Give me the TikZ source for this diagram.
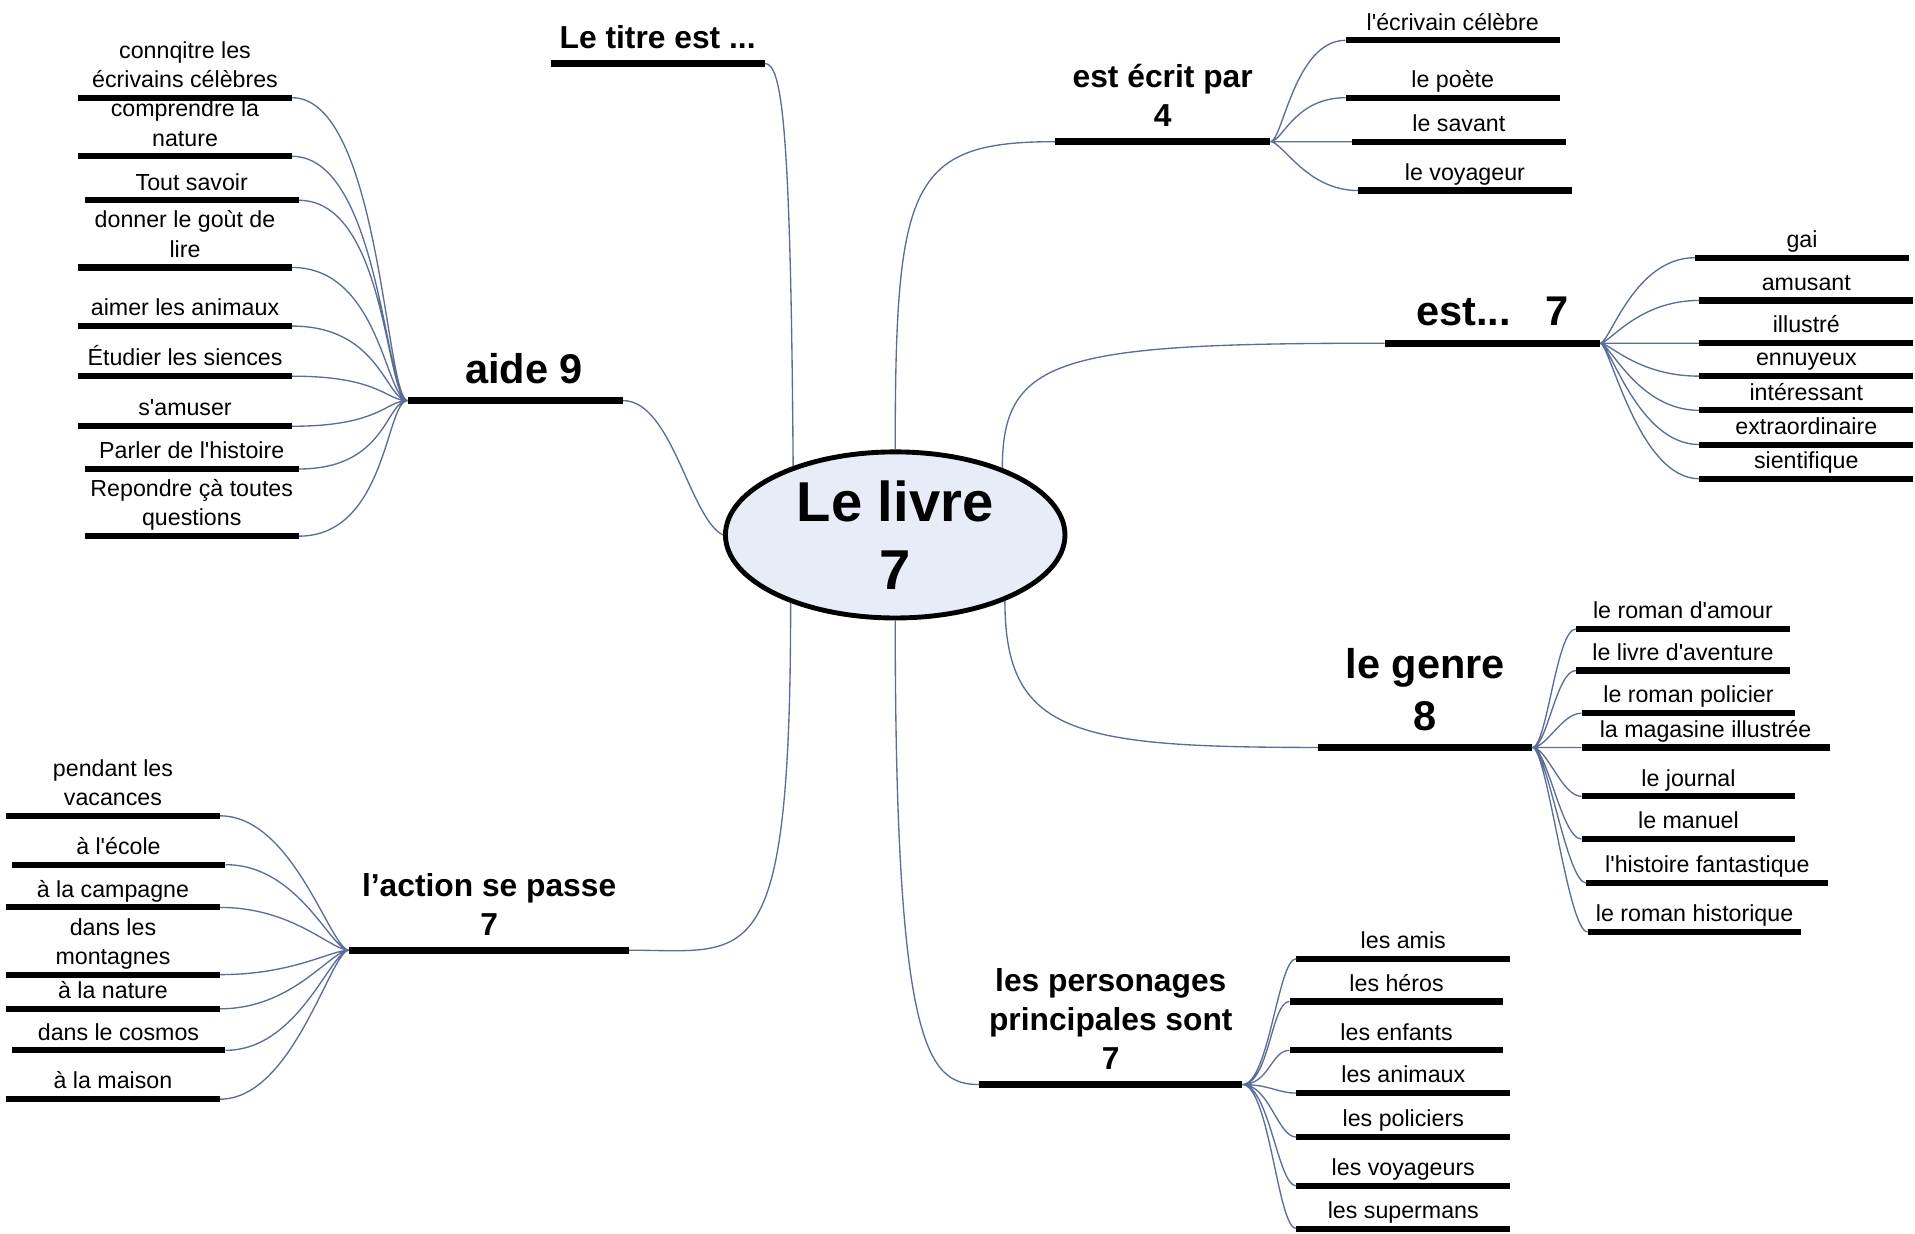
\documentclass[tikz,border=0pt]{standalone}
\usepackage{fontspec}
\setmainfont{Liberation Sans}[Ligatures=TeXOff]
\usetikzlibrary{positioning}
\usetikzlibrary{shapes.geometric}

\definecolor{linkblue}{RGB}{92,110,150}
\definecolor{livrefill}{RGB}{231,236,246}

\tikzset{
  link/.style={draw=linkblue, line width=1.1pt},
  twigl/.style 2 args={link, out=180, in=0, out distance=#1, in distance=#2},
  twigr/.style 2 args={link, out=0, in=180, out distance=#1, in distance=#2},
  every label/.style={inner sep=0pt, text depth=0pt, align=center},
  leaf/.style={fill=black, inner sep=0pt, minimum width=175pt, minimum height=5pt, label distance=7.5pt},
  branch/.style={fill=black, inner sep=0pt, minimum width=175pt, minimum height=5.5pt, label distance=10.5pt},
  bigbranch/.style={branch, label distance=12pt},
  leaflabel/.style={font=\fontsize{19}{24}\selectfont, yshift=5.5pt},
  titlelabel/.style={font=\fontsize{26}{32}\selectfont\bfseries, yshift=9pt},
  bigtitle/.style={font=\fontsize{34}{42}\selectfont\bfseries, yshift=11pt},
}

\begin{document}
\begin{tikzpicture}[x=1pt, y=1pt]
\useasboundingbox (0,0) rectangle (1568,-1010);

% le centre
\node[ellipse, draw, line width=4pt, fill=livrefill, minimum width=278pt, minimum height=136pt, inner sep=0pt, align=center, font=\fontsize{46}{56}\selectfont\bfseries] (livre) at (733,-438) {Le livre\\7};

% les branches
\node[branch, label={[titlelabel]above:Le titre est ...}] (titre) at (538.5,-52) {};
\node[branch, minimum width=176pt, label={[titlelabel]above:{est écrit par\\4}}] (ecrit) at (952,-116) {};
\node[bigbranch, minimum width=176pt, label={[bigtitle]above:est...~~~7}] (est) at (1222,-281) {};
\node[bigbranch, minimum width=176pt, label={[bigtitle, xshift=7pt]above:aide 9}] (aide) at (422,-328) {};
\node[bigbranch, label={[bigtitle]above:{le genre\\8}}] (genre) at (1167,-612) {};
\node[branch, minimum width=215pt, label={[titlelabel]above:{les personages\\principales sont\\7}}] (perso) at (909.5,-888) {};
\node[branch, minimum width=229pt, label={[titlelabel]above:{l’action se passe\\7}}] (action) at (400.5,-778) {};

\draw[link] (livre.146) .. controls +(-2,281) and +(14,0) .. (titre.east);
\draw[link] (livre.north) .. controls +(0,218) and +(-119,0) .. (ecrit.west);
\draw[link] (livre.32) .. controls +(0,91) and +(-265,0) .. (est.west);
\draw[link] (livre.west) .. controls +(-27,13) and +(40,0) .. (aide.east);
\draw[link] (livre.329) .. controls +(0,-109) and +(-200,0) .. (genre.west);
\draw[link] (livre.south) .. controls +(0,-352) and +(-42,0) .. (perso.west);
\draw[link] (livre.213) .. controls +(0,-309) and +(99,0) .. (action.east);

% aide 9
\node[leaf, label={[leaflabel]above:{connqitre les\\écrivains célèbres}}] (a1) at (151.5,-80) {};
\node[leaf, label={[leaflabel]above:{comprendre la\\nature}}] (a2) at (151.5,-128) {};
\node[leaf, label={[leaflabel]above:Tout savoir}] (a3) at (157,-164) {};
\node[leaf, label={[leaflabel]above:{donner le goùt de\\lire}}] (a4) at (151.5,-219) {};
\node[leaf, label={[leaflabel]above:aimer les animaux}] (a5) at (151.5,-267) {};
\node[leaf, label={[leaflabel]above:Étudier les siences}] (a6) at (151.5,-308) {};
\node[leaf, label={[leaflabel]above:s'amuser}] (a7) at (151.5,-349) {};
\node[leaf, label={[leaflabel]above:Parler de l'histoire}] (a8) at (157,-384) {};
\node[leaf, label={[leaflabel]above:{Repondre çà toutes\\questions}}] (a9) at (157,-439) {};
\draw[twigl={18pt}{72pt}] (aide.west) to (a1.east) (aide.west) to (a2.east) (aide.west) to (a3.east)
  (aide.west) to (a4.east) (aide.west) to (a5.east) (aide.west) to (a6.east)
  (aide.west) to (a7.east) (aide.west) to (a8.east) (aide.west) to (a9.east);

% est ecrit par
\node[leaf, label={[leaflabel]above:l'écrivain célèbre}] (e1) at (1189.5,-33) {};
\node[leaf, label={[leaflabel]above:le poète}] (e2) at (1189.5,-80) {};
\node[leaf, label={[leaflabel]above:le savant}] (e3) at (1194.5,-116) {};
\node[leaf, label={[leaflabel]above:le voyageur}] (e4) at (1199.5,-156) {};
\draw[twigr={10pt}{42pt}] (ecrit.east) to (e1.west) (ecrit.east) to (e2.west)
  (ecrit.east) to (e3.west) (ecrit.east) to (e4.west);

% est... 7
\node[leaf, label={[leaflabel]above:gai}] (s1) at (1475.5,-211) {};
\node[leaf, label={[leaflabel]above:amusant}] (s2) at (1479,-246) {};
\node[leaf, label={[leaflabel]above:illustré}] (s3) at (1479,-281) {};
\node[leaf, label={[leaflabel]above:ennuyeux}] (s4) at (1479,-308) {};
\node[leaf, label={[leaflabel]above:intéressant}] (s5) at (1479,-336) {};
\node[leaf, label={[leaflabel]above:extraordinaire}] (s6) at (1479,-364) {};
\node[leaf, label={[leaflabel]above:sientifique}] (s7) at (1479,-392) {};
\draw[twigr={8pt}{50pt}] (est.east) to (s1.west) (est.east) to (s2.west) (est.east) to (s3.west)
  (est.east) to (s4.west) (est.east) to (s5.west) (est.east) to (s6.west) (est.east) to (s7.west);

% le genre
\node[leaf, label={[leaflabel]above:le roman d'amour}] (g1) at (1378,-515) {};
\node[leaf, label={[leaflabel]above:le livre d'aventure}] (g2) at (1378,-549) {};
\node[leaf, label={[leaflabel]above:le roman policier}] (g3) at (1382.5,-584) {};
\node[leaf, minimum width=203pt, label={[leaflabel]above:la magasine illustrée}] (g4) at (1396.5,-612) {};
\node[leaf, label={[leaflabel]above:le journal}] (g5) at (1382.5,-652) {};
\node[leaf, label={[leaflabel]above:le manuel}] (g6) at (1382.5,-687) {};
\node[leaf, minimum width=198pt, label={[leaflabel]above:l'histoire fantastique}] (g7) at (1398,-723) {};
\node[leaf, label={[leaflabel]above:le roman historique}] (g8) at (1387.5,-763) {};
\draw[twigr={12pt}{16pt}] (genre.east) to (g1.west) (genre.east) to (g2.west) (genre.east) to (g3.west)
  (genre.east) to (g4.west) (genre.east) to (g5.west) (genre.east) to (g6.west)
  (genre.east) to (g7.west) (genre.east) to (g8.west);

% les personages
\node[leaf, label={[leaflabel]above:les amis}] (p1) at (1149,-785) {};
\node[leaf, label={[leaflabel]above:les héros}] (p2) at (1143.5,-820) {};
\node[leaf, label={[leaflabel]above:les enfants}] (p3) at (1143.5,-860) {};
\node[leaf, label={[leaflabel]above:les animaux}] (p4) at (1149,-895) {};
\node[leaf, label={[leaflabel]above:les policiers}] (p5) at (1149,-931) {};
\node[leaf, label={[leaflabel]above:les voyageurs}] (p6) at (1149,-971) {};
\node[leaf, label={[leaflabel]above:les supermans}] (p7) at (1149,-1006) {};
\draw[twigr={22pt}{15pt}] (perso.east) to (p1.west) (perso.east) to (p2.west) (perso.east) to (p3.west)
  (perso.east) to (p4.west) (perso.east) to (p5.west) (perso.east) to (p6.west) (perso.east) to (p7.west);

% l'action se passe
\node[leaf, label={[leaflabel]above:{pendant les\\vacances}}] (c1) at (92.5,-668) {};
\node[leaf, label={[leaflabel]above:à l'école}] (c2) at (97,-708) {};
\node[leaf, label={[leaflabel]above:à la campagne}] (c3) at (92.5,-743) {};
\node[leaf, label={[leaflabel]above:{dans les\\montagnes}}] (c4) at (92.5,-798) {};
\node[leaf, label={[leaflabel]above:à la nature}] (c5) at (92.5,-826) {};
\node[leaf, label={[leaflabel]above:dans le cosmos}] (c6) at (97,-860) {};
\node[leaf, label={[leaflabel]above:à la maison}] (c7) at (92.5,-900) {};
\draw[twigl={15pt}{60pt}] (action.west) to (c1.east) (action.west) to (c2.east) (action.west) to (c3.east)
  (action.west) to (c4.east) (action.west) to (c5.east) (action.west) to (c6.east) (action.west) to (c7.east);
\end{tikzpicture}
\end{document}
